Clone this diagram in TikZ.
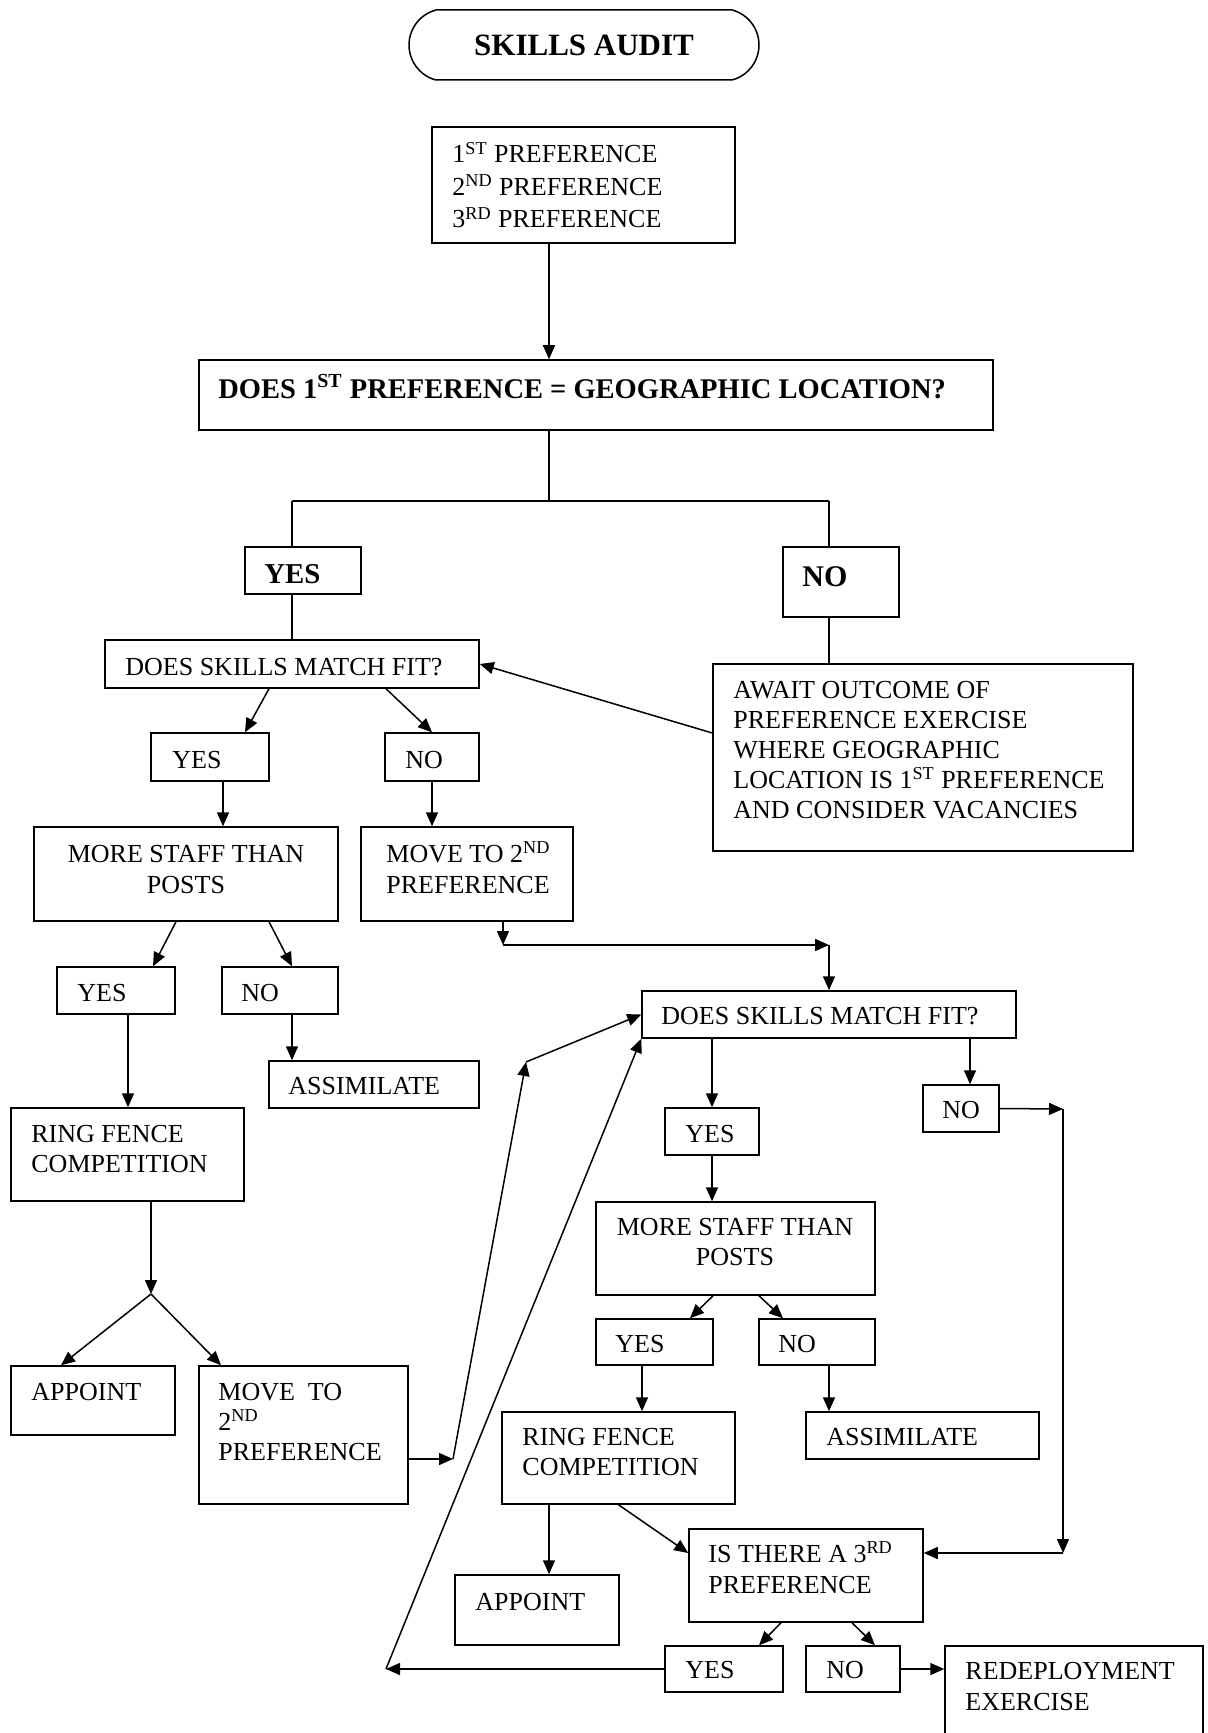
\documentclass[tikz,border=0pt]{standalone}
\usepackage{fontspec}
\setmainfont{Liberation Serif}
\usetikzlibrary{arrows.meta,shapes.misc}
\begin{document}
\begin{tikzpicture}[x=0.5pt,y=-0.5pt,
  box/.style={draw, line width=0.75pt, inner sep=0pt},
  txt/.style={inner sep=0pt, anchor=base west, align=left, font=\fontsize{13}{15.5}\selectfont},
  ctxt/.style={inner sep=0pt, anchor=base, align=center, font=\fontsize{13}{15.5}\selectfont},
  ln/.style={line width=0.75pt},
  arr/.style={line width=0.75pt, -{Triangle[length=7pt,width=6pt]}}]
\fill[white] (0,0) rectangle (1207,1733);
\useasboundingbox (0,0) rectangle (1207,1733);
\clip (0,0) rectangle (1207,1733);

% title
\node[draw, line width=0.75pt, rounded rectangle, rounded rectangle arc length=150,
  minimum width=175pt, minimum height=35pt, inner sep=0pt,
  font=\bfseries\fontsize{15.5}{18}\selectfont] (title) at (584,45) {SKILLS AUDIT};

% boxes
\node[box, minimum width=151.5pt, minimum height=58pt] (pref) at (583.5,185) {};
\node[box, minimum width=397pt, minimum height=35pt] (geo) at (596,395) {};
\node[box, minimum width=58pt, minimum height=23.5pt] (yesB) at (303,570.5) {};
\node[box, minimum width=58pt, minimum height=35pt] (noB) at (841,582) {};
\node[box, minimum width=187pt, minimum height=24pt] (dsmf1) at (292,664) {};
\node[box, minimum width=210pt, minimum height=93.5pt] (await) at (923,757.5) {};
\node[box, minimum width=59pt, minimum height=24pt] (yes2) at (210,757) {};
\node[box, minimum width=47pt, minimum height=24pt] (no2) at (432,757) {};
\node[box, minimum width=152pt, minimum height=47pt] (mstp1) at (186,874) {};
\node[box, minimum width=106pt, minimum height=47pt] (move1) at (467,874) {};
\node[box, minimum width=59pt, minimum height=23.5pt] (yes3) at (116,990.5) {};
\node[box, minimum width=58pt, minimum height=23.5pt] (no3) at (280,990.5) {};
\node[box, minimum width=105pt, minimum height=23.5pt] (assim1) at (374,1084.5) {};
\node[box, minimum width=116.5pt, minimum height=46.5pt] (rfc1) at (127.5,1154.5) {};
\node[box, minimum width=82pt, minimum height=34.5pt] (appoint1) at (93,1400.5) {};
\node[box, minimum width=104.5pt, minimum height=69pt] (move2) at (303.5,1435) {};
\node[box, minimum width=187pt, minimum height=23.5pt] (dsmf2) at (829,1014.5) {};
\node[box, minimum width=47pt, minimum height=23.5pt] (yes4) at (712,1131.5) {};
\node[box, minimum width=38pt, minimum height=23.5pt] (no4) at (961,1108.5) {};
\node[box, minimum width=139.5pt, minimum height=46.5pt] (mstp2) at (735.5,1248.5) {};
\node[box, minimum width=58.5pt, minimum height=23pt] (yes5) at (654.5,1342) {};
\node[box, minimum width=58pt, minimum height=23pt] (no5) at (817,1342) {};
\node[box, minimum width=116.5pt, minimum height=46pt] (rfc2) at (618.5,1458) {};
\node[box, minimum width=116.5pt, minimum height=23.5pt] (assim2) at (922.5,1435.5) {};
\node[box, minimum width=82pt, minimum height=35pt] (appoint2) at (537,1610) {};
\node[box, minimum width=117pt, minimum height=46.5pt] (it3p) at (806,1575.5) {};
\node[box, minimum width=59pt, minimum height=23pt] (yes6) at (724,1669) {};
\node[box, minimum width=47pt, minimum height=23pt] (no6) at (853,1669) {};
\node[box, minimum width=129pt, minimum height=57pt] (redep) at (1074,1703) {};

% texts (multi-line nodes are placed by the baseline of their last line)
\node[txt, font=\fontsize{13}{16.3}\selectfont] (t-pref) at (452,228)
  {1\textsuperscript{ST} PREFERENCE\\2\textsuperscript{ND} PREFERENCE\\3\textsuperscript{RD} PREFERENCE};
\node[txt, font=\bfseries\fontsize{14.25}{16}\selectfont] (t-geo) at (218,398)
  {DOES 1\textsuperscript{ST} PREFERENCE = GEOGRAPHIC LOCATION?};
\node[txt, font=\bfseries\fontsize{14.4}{16}\selectfont] (t-yesB) at (264,583) {YES};
\node[txt, font=\bfseries\fontsize{15}{16}\selectfont] (t-noB) at (802,586) {NO};
\node[txt] (t-dsmf1) at (125,675) {DOES SKILLS MATCH FIT?};
\node[txt, font=\fontsize{13}{15}\selectfont] (t-await) at (733,818)
  {AWAIT OUTCOME OF\\PREFERENCE EXERCISE\\WHERE GEOGRAPHIC\\LOCATION IS 1\textsuperscript{ST} PREFERENCE\\AND CONSIDER VACANCIES};
\node[txt] (t-yes2) at (172,768) {YES};
\node[txt] (t-no2) at (405,768) {NO};
\node[ctxt] (t-mstp1) at (186,893) {MORE STAFF THAN\\POSTS};
\node[txt] (t-move1) at (386,893) {MOVE TO 2\textsuperscript{ND}\\PREFERENCE};
\node[txt] (t-yes3) at (77,1001) {YES};
\node[txt] (t-no3) at (241,1001) {NO};
\node[txt] (t-assim1) at (288,1094) {ASSIMILATE};
\node[txt, font=\fontsize{13}{15}\selectfont] (t-rfc1) at (31,1172) {RING FENCE\\COMPETITION};
\node[txt] (t-appoint1) at (31,1400) {APPOINT};
\node[txt, font=\fontsize{13}{15}\selectfont] (t-move2) at (218,1460) {MOVE\ \ TO\\2\textsuperscript{ND}\\PREFERENCE};
\node[txt] (t-dsmf2) at (661,1024) {DOES SKILLS MATCH FIT?};
\node[txt] (t-yes4) at (685,1142) {YES};
\node[txt] (t-no4) at (942,1118) {NO};
\node[ctxt, font=\fontsize{13}{15}\selectfont] (t-mstp2) at (735,1265) {MORE STAFF THAN\\POSTS};
\node[txt] (t-yes5) at (615,1352) {YES};
\node[txt] (t-no5) at (778,1352) {NO};
\node[txt, font=\fontsize{13}{15}\selectfont] (t-rfc2) at (522,1475) {RING FENCE\\COMPETITION};
\node[txt] (t-assim2) at (826,1445) {ASSIMILATE};
\node[txt] (t-appoint2) at (475,1610) {APPOINT};
\node[txt] (t-it3p) at (708,1593) {IS THERE A 3\textsuperscript{RD}\\PREFERENCE};
\node[txt] (t-yes6) at (685,1678) {YES};
\node[txt] (t-no6) at (826,1678) {NO};
\node[txt] (t-redep) at (965,1710) {REDEPLOYMENT\\EXERCISE};

% junction coordinates
\coordinate (j0) at (549,501);
\coordinate (jl) at (292,501);
\coordinate (jr) at (829,501);
\coordinate (apex) at (151,1294);
\coordinate (m1) at (503,945);
\coordinate (m2) at (829,945);
\coordinate (r1) at (453,1459);
\coordinate (r2) at (526,1062);
\coordinate (q1) at (1063,1109);
\coordinate (q2) at (1063,1553);
\coordinate (w1) at (386,1669);

% connectors
\draw[arr] (j0 |- pref.south) -- (j0 |- geo.north);
\draw[ln] (j0 |- geo.south) -- (j0);
\draw[ln] (jl) -- (jr);
\draw[ln] (jl) -- (jl |- yesB.north);
\draw[ln] (jr) -- (jr |- noB.north);
\draw[ln] (jl |- yesB.south) -- (jl |- dsmf1.north);
\draw[ln] (jr |- noB.south) -- (jr |- await.north);
\draw[arr] ([yshift=12.25pt]await.west) -- (dsmf1.east);
\draw[arr] ([xshift=-11.5pt]dsmf1.south) -- ([xshift=17.5pt]yes2.north);
\draw[arr] ([xshift=47pt]dsmf1.south) -- (no2.north);
\draw[arr] ([xshift=6.5pt]yes2.south) -- ([xshift=6.5pt]yes2.south |- mstp1.north);
\draw[arr] (no2.south) -- (no2.south |- move1.north);
\draw[arr] ([xshift=-5pt]mstp1.south) -- ([xshift=18.5pt]yes3.north);
\draw[arr] ([xshift=41.5pt]mstp1.south) -- ([xshift=6pt]no3.north);
\draw[arr] ([xshift=6pt]no3.south) -- ([xshift=6pt]no3.south |- assim1.north);
\draw[arr] ([xshift=6pt]yes3.south) -- ([xshift=6pt]yes3.south |- rfc1.north);
\draw[arr] (apex |- rfc1.south) -- (apex);
\draw[arr] (apex) -- ([xshift=-16pt]appoint1.north);
\draw[arr] (apex) -- ([xshift=-41.25pt]move2.north);
\draw[arr] (m1 |- move1.south) -- (m1);
\draw[arr] (m1) -- (m2);
\draw[arr] (m2) -- (m2 |- dsmf2.north);
\draw[arr] (r1 -| move2.east) -- (r1);
\draw[arr] (r1) -- (r2);
\draw[arr] (r2) -- (dsmf2.west);
\draw[arr] (yes4.north |- dsmf2.south) -- (yes4.north);
\draw[arr] ([xshift=4.5pt]no4.north |- dsmf2.south) -- ([xshift=4.5pt]no4.north);
\draw[arr] (no4.east) -- (q1);
\draw[arr] (q1) -- (q2);
\draw[arr] (q2) -- (q2 -| it3p.east);
\draw[arr] (yes4.south) -- (yes4.south |- mstp2.north);
\draw[arr] ([xshift=-11.25pt]mstp2.south) -- ([xshift=17.75pt]yes5.north);
\draw[arr] ([xshift=11.75pt]mstp2.south) -- ([xshift=-17pt]no5.north);
\draw[arr] ([xshift=-6.25pt]yes5.south) -- ([xshift=-6.25pt]yes5.south |- rfc2.north);
\draw[arr] ([xshift=6pt]no5.south) -- ([xshift=6pt]no5.south |- assim2.north);
\draw[arr] ([xshift=-34.75pt]rfc2.south) -- ([xshift=-34.75pt]rfc2.south |- appoint2.north);
\draw[arr] (rfc2.south) -- ([yshift=11.25pt]it3p.west);
\draw[arr] ([xshift=-12.5pt]it3p.south) -- ([xshift=17.5pt]yes6.north);
\draw[arr] ([xshift=23pt]it3p.south) -- ([xshift=11pt]no6.north);
\draw[arr] (yes6.west) -- (w1);
\draw[arr] (w1) -- (dsmf2.south west);
\draw[arr] (no6.east) -- (no6.east -| redep.west);
\end{tikzpicture}
\end{document}
